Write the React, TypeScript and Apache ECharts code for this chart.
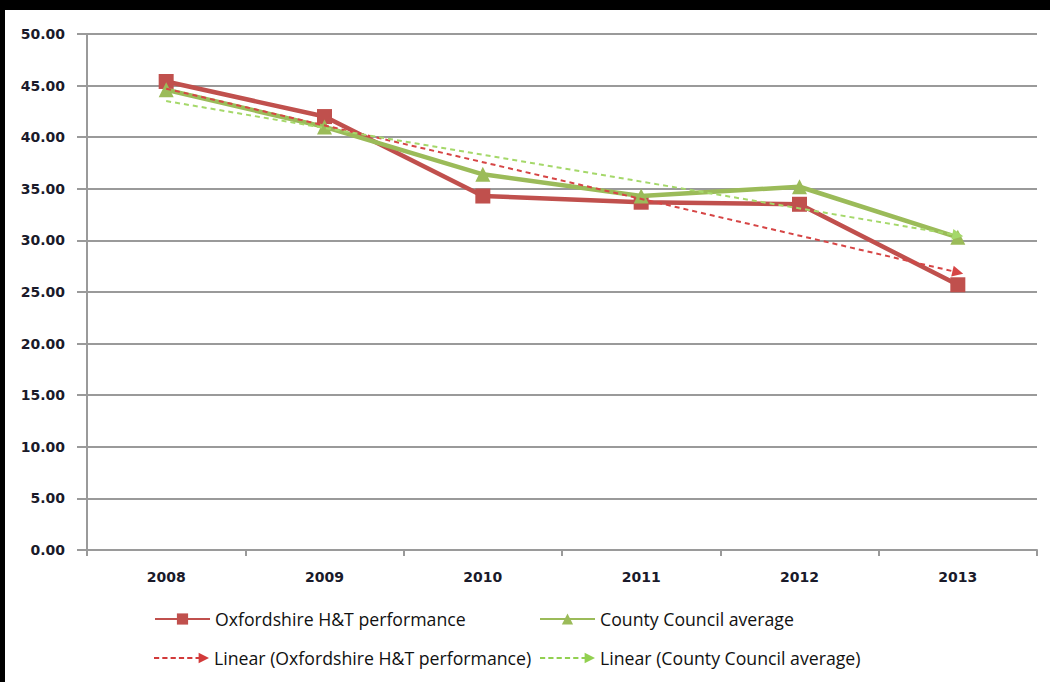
import React, { useEffect, useRef } from "react";
import * as echarts from "echarts";

const years = ["2008", "2009", "2010", "2011", "2012", "2013"];
const oxfordshire = [45.4, 42.0, 34.3, 33.7, 33.5, 25.7];
const countyAverage = [44.6, 41.0, 36.4, 34.3, 35.2, 30.3];
// trend line end points (2008, 2013)
const trendOxfordshire = [44.7, 26.9];
const trendCounty = [43.5, 30.5];

const OX = "Oxfordshire H&T performance";
const CC = "County Council average";
const LOX = "Linear (Oxfordshire H&T performance)";
const LCC = "Linear (County Council average)";

const AXIS_FONT = "DejaVu Sans";
const LEGEND_FONT = "Open Sans";
const arrowIcon =
  "path://M0,6h5v2H0z M8,6h5v2H8z M16,6h5v2h-5z M24,6h5v2h-5z M32,6h5v2h-5z M40,6h3v2h-3z M43,2L53,7L43,12z";

export default function App() {
  const ref = useRef<HTMLDivElement>(null);
  useEffect(() => {
    document.body.style.margin = "0";
    const chart = echarts.init(ref.current!, null, { renderer: "svg" });
    const legendText = { fontFamily: LEGEND_FONT, fontSize: 17.7, color: "#111" };
    const mkLegend = (name: string, left: number, top: number, extra: any = {}) => ({
      data: [{ name, ...extra }],
      left,
      top,
      itemWidth: 55,
      itemHeight: 14,
      itemGap: 0,
      textStyle: legendText,
      selectedMode: false,
      padding: 0,
    });
    chart.setOption({
      animation: false,
      backgroundColor: "#fff",
      graphic: [
        { type: "rect", shape: { x: 0, y: 0, width: 1050, height: 10 }, style: { fill: "#000" }, z: 100 },
        { type: "rect", shape: { x: 0, y: 0, width: 5, height: 682 }, style: { fill: "#000" }, z: 100 },
      ],
      grid: { left: 87, right: 13, top: 34, bottom: 132, containLabel: false },
      legend: [
        mkLegend(OX, 154, 610),
        mkLegend(CC, 539, 610),
        mkLegend(LOX, 154, 649, { icon: arrowIcon, itemStyle: { color: "#D23A3A" } }),
        mkLegend(LCC, 540, 649, { icon: arrowIcon, itemStyle: { color: "#92D050" } }),
      ],
      xAxis: {
        type: "category",
        data: years,
        boundaryGap: true,
        axisLine: { lineStyle: { color: "#9a9a9a", width: 2 } },
        axisTick: { show: true, length: 6, lineStyle: { color: "#9a9a9a", width: 2 } },
        axisLabel: { fontFamily: AXIS_FONT, fontSize: 14, fontWeight: "bold", color: "#1a1a2a", margin: 20 },
      },
      yAxis: {
        type: "value",
        min: 0,
        max: 50,
        interval: 5,
        axisLine: { show: true, lineStyle: { color: "#9a9a9a", width: 2 } },
        axisTick: { show: true, length: 10, lineStyle: { color: "#9a9a9a", width: 2 } },
        splitLine: { lineStyle: { color: "#9a9a9a", width: 2 } },
        axisLabel: {
          fontFamily: AXIS_FONT,
          fontSize: 14,
          fontWeight: "bold",
          color: "#1a1a2a",
          margin: 22,
          formatter: (v: number) => v.toFixed(2),
        },
      },
      series: [
        {
          name: OX,
          type: "line",
          data: oxfordshire,
          symbol: "rect",
          symbolSize: 15,
          itemStyle: { color: "#C0504D" },
          lineStyle: { color: "#C0504D", width: 4.5 },
          z: 2,
        },
        {
          name: CC,
          type: "line",
          data: countyAverage,
          symbol: "triangle",
          symbolSize: 15,
          itemStyle: { color: "#9BBB59" },
          lineStyle: { color: "#9BBB59", width: 4.5 },
          z: 3,
        },
        {
          name: LOX,
          type: "line",
          data: [],
          itemStyle: { color: "#D23A3A" },
          z: 4,
          markLine: {
            silent: true,
            symbol: ["none", "triangle"],
            symbolSize: [11, 11],
            label: { show: false },
            lineStyle: { color: "#D64545", width: 2, type: [5, 4] },
            itemStyle: { color: "#CC0000" },
            emphasis: { disabled: true },
            data: [
              [
                { coord: [years[0], trendOxfordshire[0]], symbol: "none" },
                { coord: [years[5], trendOxfordshire[1]], symbol: "triangle", itemStyle: { color: "#CC0000" } },
              ],
            ],
          },
        },
        {
          name: LCC,
          type: "line",
          data: [],
          itemStyle: { color: "#92D050" },
          z: 4,
          markLine: {
            silent: true,
            symbol: ["none", "triangle"],
            symbolSize: [11, 11],
            label: { show: false },
            lineStyle: { color: "#A5D86A", width: 2, type: [5, 4] },
            emphasis: { disabled: true },
            data: [
              [
                { coord: [years[0], trendCounty[0]], symbol: "none" },
                { coord: [years[5], trendCounty[1]], symbol: "triangle", itemStyle: { color: "#92D050" } },
              ],
            ],
          },
        },
      ],
    });
    return () => chart.dispose();
  }, []);
  return <div ref={ref} style={{ width: 1050, height: 682 }} />;
}
